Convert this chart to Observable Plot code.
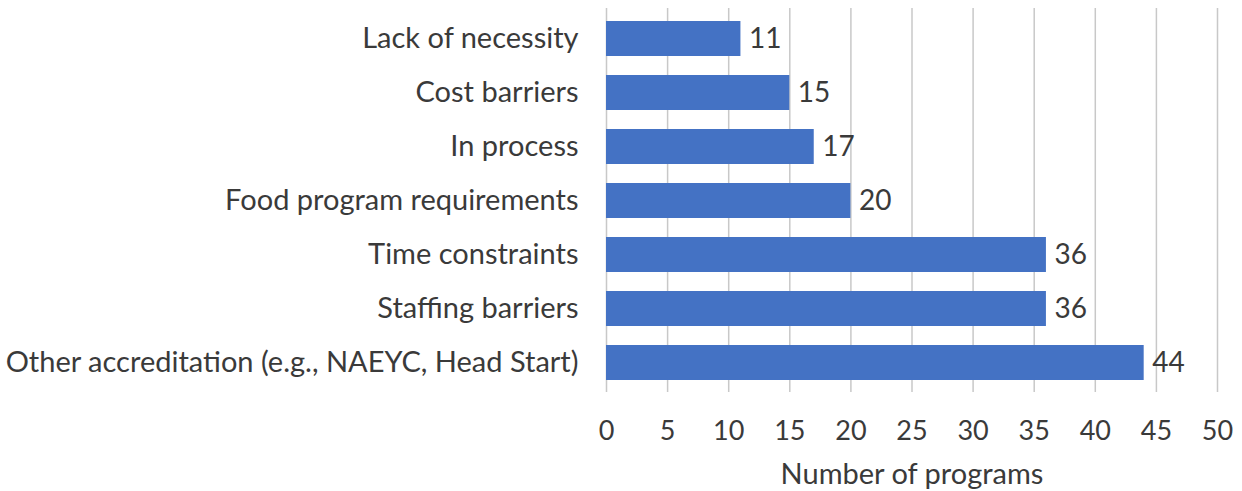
<!DOCTYPE html>
<html>
<head>
<meta charset="utf-8">
<script src="https://cdn.jsdelivr.net/npm/d3@7"></script>
<script src="https://cdn.jsdelivr.net/npm/@observablehq/plot@0.6"></script>
<style>
  html, body { margin: 0; padding: 0; background: #fff; }
  svg { display: block; }
</style>
</head>
<body>
<div id="chart"></div>
<script>
const categories = [
  "Lack of necessity",
  "Cost barriers",
  "In process",
  "Food program requirements",
  "Time constraints",
  "Staffing barriers",
  "Other accreditation (e.g., NAEYC, Head Start)"
];
const values = [11, 15, 17, 20, 36, 36, 44];
const xTicks = [0, 5, 10, 15, 20, 25, 30, 35, 40, 45, 50];
const xLabel = "Number of programs";

const data = categories.map((c, i) => ({category: c, value: values[i]}));
const textColor = "#3a3a3a";
const font = "Lato, 'Open Sans', sans-serif";

const chart = Plot.plot({
  width: 1242,
  height: 491,
  marginLeft: 606,
  marginRight: 25,
  marginTop: 8,
  marginBottom: 99,
  style: {fontFamily: font, fontSize: "27px", color: textColor, background: "#fff"},
  x: {domain: [0, 50], ticks: xTicks, label: xLabel, labelAnchor: "center", labelArrow: false},
  y: {domain: categories, paddingInner: 0.36, paddingOuter: 0.18, label: null},
  marks: [
    Plot.ruleX(xTicks, {stroke: "#c8c8c8", strokeWidth: 1.5, strokeOpacity: 1}),
    Plot.barX(data, {x: "value", y: "category", fill: "#4472C4"}),
    Plot.text(data, {x: "value", y: "category", text: d => String(d.value), textAnchor: "start", dx: 8, fill: textColor, fontSize: 28}),
    Plot.axisY({tickSize: 0, tickPadding: 28, fontSize: 29, label: null}),
    Plot.axisX({ticks: xTicks, tickSize: 0, tickPadding: 28, fontSize: 27, label: null}),
    Plot.text([xLabel], {frameAnchor: "bottom", dy: 82, text: d => d, fontSize: 29, fill: textColor, lineAnchor: "middle"})
  ]
});
document.getElementById("chart").append(chart);
</script>
</body>
</html>
